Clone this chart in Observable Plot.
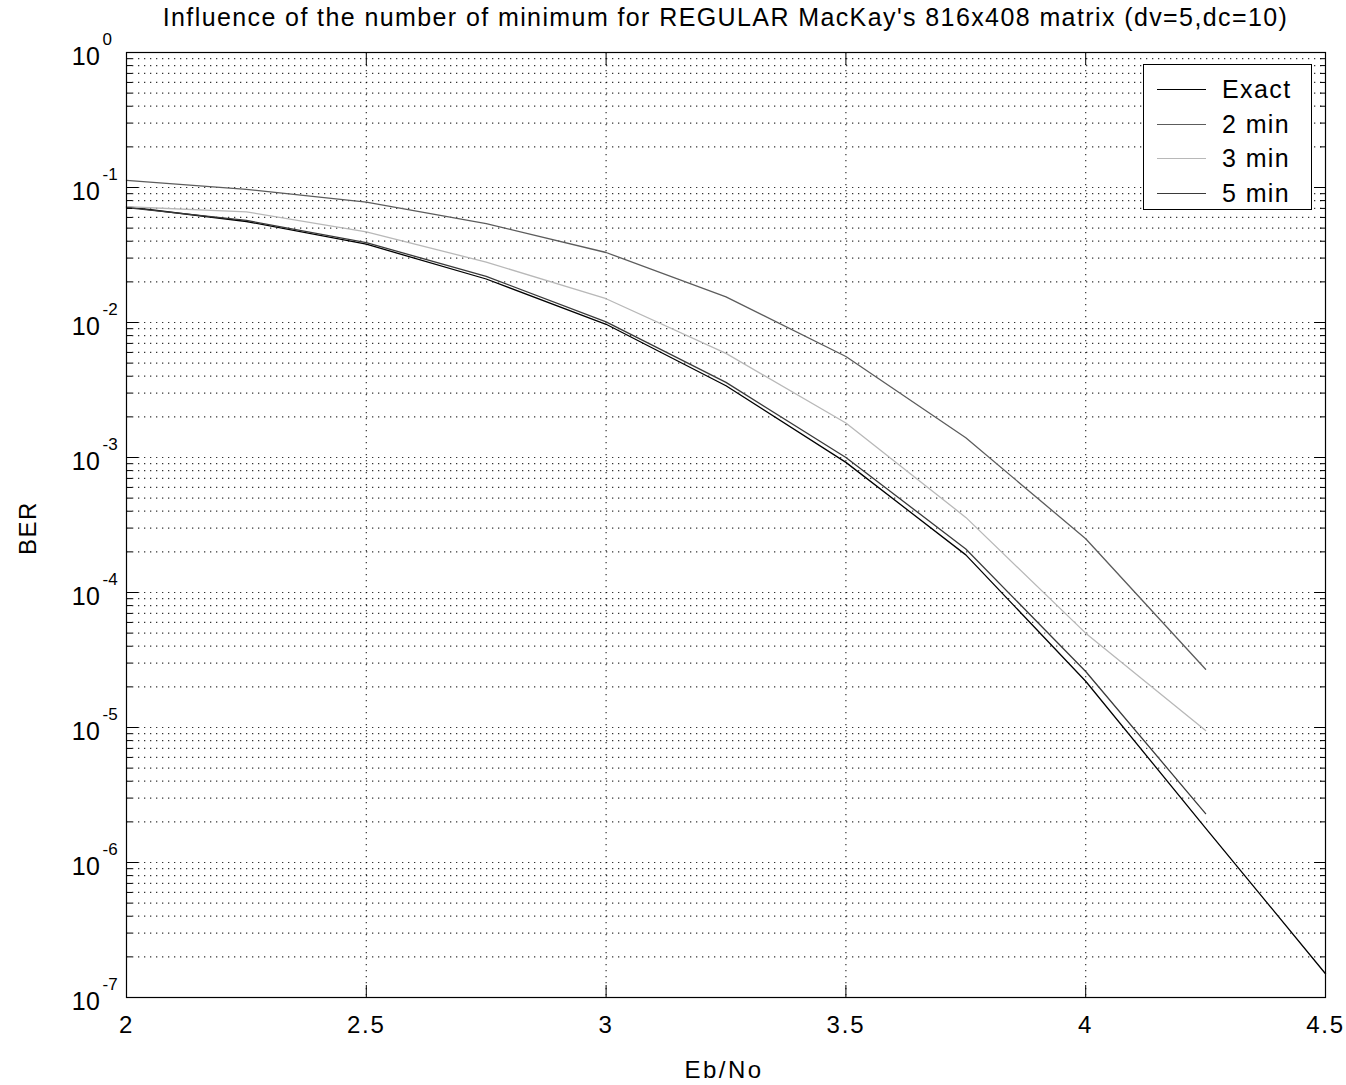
<!DOCTYPE html>
<html><head><meta charset="utf-8">
<script src="https://cdn.jsdelivr.net/npm/d3@7"></script>
<script src="https://cdn.jsdelivr.net/npm/@observablehq/plot@0.6"></script>
<style>
body{margin:0;background:#fff;font-family:"Liberation Sans",Arial,Helvetica,sans-serif;}
#wrap{position:relative;width:1346px;height:1085px;}
#title{position:absolute;left:126px;top:3px;width:1199px;text-align:center;font-size:25px;letter-spacing:1.4px;color:#000;white-space:nowrap;}
#legend{position:absolute;left:1143px;top:64px;width:169px;height:146px;border:1px solid #000;background:#fff;box-sizing:border-box;}
.row{position:absolute;left:0;height:34px;width:100%;}
.row .ln{position:absolute;left:13px;width:49px;top:50%;}
.row .tx{position:absolute;left:78px;top:50%;transform:translateY(-50%);font-size:25px;letter-spacing:1.4px;}
</style></head><body>
<div id="wrap">
<div id="chart"></div>
<div id="title"></div>
<div id="legend"></div>
</div>
<script>
const title = "Influence of the number of minimum for REGULAR MacKay's 816x408 matrix (dv=5,dc=10)";
const ebno = [2, 2.25, 2.5, 2.75, 3, 3.25, 3.5, 3.75, 4, 4.25, 4.5];
const berExact = [0.072, 0.056, 0.038, 0.021, 0.0097, 0.0034, 0.00092, 1.9e-4, 2.2e-5, 1.8e-6, 1.5e-7];
const ber2min = [0.113, 0.097, 0.078, 0.054, 0.033, 0.0155, 0.0056, 0.0014, 2.5e-4, 2.7e-5];
const ber3min = [0.072, 0.066, 0.047, 0.028, 0.0150, 0.0059, 0.0018, 3.6e-4, 5.0e-5, 9.5e-6];
const ber5min = [0.071, 0.057, 0.039, 0.022, 0.0101, 0.0036, 0.00100, 2.1e-4, 2.6e-5, 2.3e-6];
const seriesNames = ["Exact", "2 min", "3 min", "5 min"];
const seriesColors = ["#000000", "#5c5c5c", "#b8b8b8", "#3a3a3a"];
const xTicks = [2, 2.5, 3, 3.5, 4, 4.5];
const yExponents = [0, -1, -2, -3, -4, -5, -6, -7];
const xLabel = "Eb/No";
const yLabel = "BER";

const seriesValues = [berExact, ber2min, ber3min, ber5min];
const rows = [];
seriesNames.forEach((name, i) => {
  seriesValues[i].forEach((v, j) => rows.push({series: name, x: ebno[j], y: v}));
});
const majorVals = yExponents.map(k => Math.pow(10, k));
const minorVals = [];
yExponents.forEach(k => { if (k < 0) for (let m = 2; m <= 9; m++) minorVals.push(m * Math.pow(10, k)); });

const font = "Liberation Sans, Arial, Helvetica, sans-serif";
const noText = () => "";
const plot = Plot.plot({
  width: 1346, height: 1085,
  marginTop: 52, marginBottom: 88, marginLeft: 126, marginRight: 21,
  style: {fontFamily: font, background: "white", color: "black"},
  x: {domain: [2, 4.5]},
  y: {type: "log", domain: [1e-7, 1]},
  color: {domain: seriesNames, range: seriesColors},
  marks: [
    Plot.ruleY(minorVals.concat(majorVals.slice(1, -1)), {stroke: "#000", strokeDasharray: "1.3,4.7", strokeWidth: 1.2, strokeOpacity: 0.8}),
    Plot.ruleX(xTicks.slice(1, -1), {stroke: "#000", strokeDasharray: "1.3,4.7", strokeWidth: 1.2, strokeOpacity: 0.8}),
    Plot.line(rows, {x: "x", y: "y", z: "series", stroke: "series", strokeWidth: 1.3}),
    Plot.axisY({anchor: "left", ticks: majorVals, tickSize: -12, tickFormat: noText, label: null}),
    Plot.axisY({anchor: "right", ticks: majorVals, tickSize: -12, tickFormat: noText, label: null}),
    Plot.axisY({anchor: "left", ticks: minorVals, tickSize: -6, tickFormat: noText, label: null}),
    Plot.axisY({anchor: "right", ticks: minorVals, tickSize: -6, tickFormat: noText, label: null}),
    Plot.axisX({anchor: "bottom", ticks: xTicks, tickSize: -12, tickFormat: noText, label: null}),
    Plot.axisX({anchor: "top", ticks: xTicks, tickSize: -12, tickFormat: noText, label: null}),
    Plot.frame({stroke: "#000", strokeWidth: 1.2}),
    Plot.text(xTicks, {x: d => d, frameAnchor: "bottom", dy: 35, textAnchor: "middle", text: d => String(d), fontSize: 24, fill: "#000"}),
    Plot.text(majorVals, {y: d => d, frameAnchor: "left", dx: -26, dy: 4, textAnchor: "end", text: () => "10", fontSize: 25, fill: "#000"}),
    Plot.text(yExponents, {y: k => Math.pow(10, k), frameAnchor: "left", dx: -24, dy: -13, textAnchor: "start", text: k => String(k), fontSize: 17, fill: "#000"}),
    Plot.text([xLabel], {frameAnchor: "bottom", dx: -2, dy: 80, textAnchor: "middle", text: d => d, fontSize: 24, fill: "#000"}),
    Plot.text([yLabel], {frameAnchor: "left", dx: -98, dy: 3, rotate: -90, textAnchor: "middle", text: d => d, fontSize: 24, fill: "#000"})
  ]
});
// letter spacing of the text marks (in mark order)
const spacing = ["1.8px", "0.5px", "0px", "2.5px", "1.5px"];
d3.select(plot).selectAll("g[aria-label='text']").each(function(_, i) {
  if (spacing[i]) this.setAttribute("letter-spacing", spacing[i]);
});
document.getElementById("chart").appendChild(plot);
document.getElementById("title").textContent = title;

const legend = document.getElementById("legend");
seriesNames.forEach((name, i) => {
  const row = document.createElement("div");
  row.className = "row";
  row.style.top = (7 + i * 34.5) + "px";
  const ln = document.createElement("div");
  ln.className = "ln";
  ln.style.borderTop = "1.3px solid " + seriesColors[i];
  const tx = document.createElement("div");
  tx.className = "tx";
  tx.textContent = name;
  row.appendChild(ln); row.appendChild(tx);
  legend.appendChild(row);
});
</script>
</body></html>
